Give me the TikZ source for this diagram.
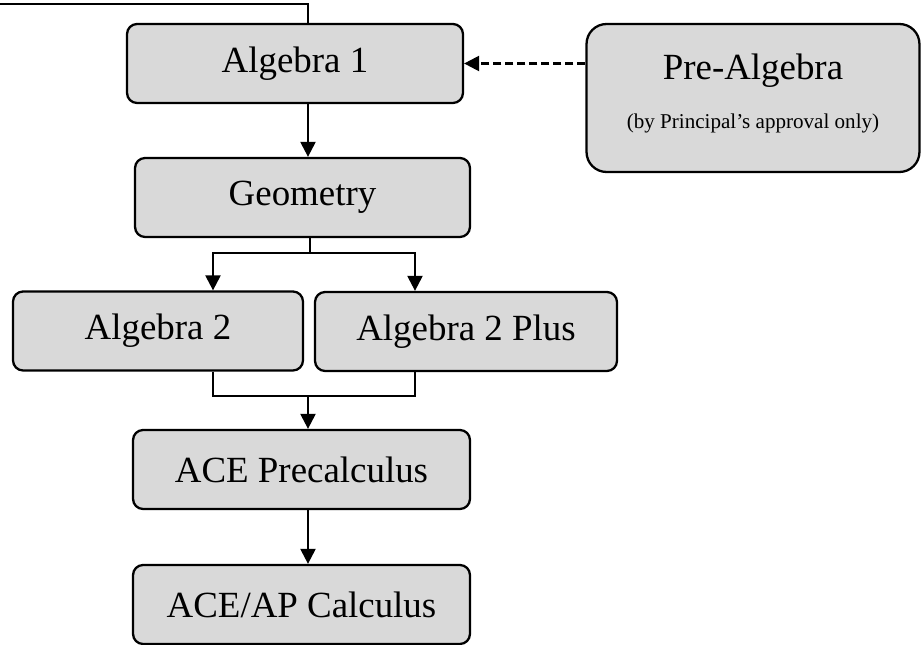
\documentclass[tikz,border=0pt]{standalone}
\usepackage{fontspec}
\setmainfont{Liberation Serif}
\usetikzlibrary{arrows.meta}
\tikzset{>={Triangle[length=0.3cm,width=0.3cm]}}
\definecolor{boxgray}{RGB}{217,217,217}
\tikzset{course/.style={draw, fill=boxgray, line width=1.3pt, rounded corners=0.2cm,
    inner sep=0pt, minimum height=1.58cm, font=\fontsize{21}{25}\selectfont}}

\begin{document}
\begin{tikzpicture}[x=0.02cm, y=-0.02cm, line width=1.3pt]
\useasboundingbox (0,0) rectangle (921,645);
% courses
\node[course, minimum width=6.72cm] (alg1) at (295,63.5) {Algebra 1};
\node[course, minimum width=6.66cm, minimum height=2.96cm, rounded corners=0.4cm,
      align=center] (prealg) at (753,98)
      {Pre-Algebra\\[1mm]{\fontsize{12}{14}\selectfont (by Principal’s approval only)\rule[-0.28cm]{0pt}{0pt}}};
\node[course, minimum width=6.7cm] (geo) at (302.5,197.5) {Geometry};
\node[course, minimum width=5.8cm] (alg2) at (158,331) {Algebra 2};
\node[course, minimum width=6.04cm] (alg2p) at (466,331.5) {Algebra 2 Plus};
\node[course, minimum width=6.74cm] (precalc) at (301.5,469.5) {ACE Precalculus};
\node[course, minimum width=6.74cm] (calc) at (301.5,604.5) {ACE/AP Calculus};
% guide points
\coordinate (entry) at (0,4);
\coordinate (spine) at (308,0);
\coordinate (lcol) at (213,0);
\coordinate (rcol) at (415,0);
\coordinate (fork) at (310,253);
\coordinate (join) at (308,396);
% incoming line
\draw (entry) -| (alg1.north -| spine);
% optional entry
\draw[->, dash pattern=on 0.16cm off 0.08cm] (alg1.east -| prealg.west) -- (alg1.east);
% main path
\draw[->] (alg1.south -| spine) -- (geo.north -| spine);
\draw (geo.south -| fork) -- (fork);
\draw[->] (fork) -| (alg2.north -| lcol);
\draw[->] (fork) -| (alg2p.north -| rcol);
\draw (alg2.south -| lcol) |- (join);
\draw (alg2p.south -| rcol) |- (join);
\draw[->] (join) -- (precalc.north -| join);
\draw[->] (precalc.south -| spine) -- (calc.north -| spine);
\end{tikzpicture}
\end{document}
